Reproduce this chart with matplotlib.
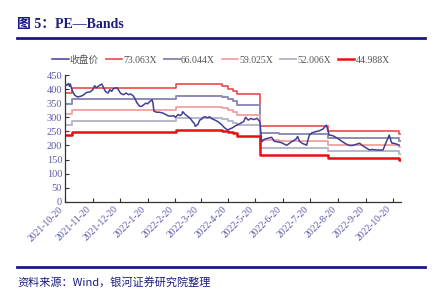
import matplotlib
matplotlib.use("Agg")
import matplotlib.pyplot as plt
import matplotlib.dates as mdates
import numpy as np
import pandas as pd
from matplotlib.lines import Line2D

# ---- data ----
price_dates = ["2021-10-20","2021-10-22","2021-10-24","2021-10-25","2021-10-26","2021-10-28","2021-10-31",
    "2021-11-03","2021-11-07","2021-11-10","2021-11-13","2021-11-17","2021-11-20","2021-11-22","2021-11-24",
    "2021-11-26","2021-11-30","2021-12-02","2021-12-04","2021-12-07","2021-12-09","2021-12-11","2021-12-13",
    "2021-12-17","2021-12-19","2021-12-21","2021-12-24","2021-12-27","2021-12-30","2022-01-01","2022-01-04",
    "2022-01-06","2022-01-08","2022-01-11","2022-01-13","2022-01-16","2022-01-18","2022-01-20","2022-01-22",
    "2022-01-25","2022-01-26","2022-01-27","2022-01-30","2022-02-02","2022-02-06","2022-02-09","2022-02-12",
    "2022-02-16","2022-02-18","2022-02-20","2022-02-23","2022-02-25","2022-02-27","2022-02-28","2022-03-03",
    "2022-03-05","2022-03-07","2022-03-09","2022-03-11","2022-03-13","2022-03-14","2022-03-17","2022-03-19",
    "2022-03-21","2022-03-23","2022-03-25","2022-03-28","2022-03-30","2022-04-01","2022-04-05","2022-04-08",
    "2022-04-12","2022-04-16","2022-04-19","2022-04-24","2022-04-28","2022-05-03","2022-05-07","2022-05-09",
    "2022-05-12","2022-05-15","2022-05-18","2022-05-22","2022-05-25","2022-05-27","2022-05-30","2022-06-02",
    "2022-06-07","2022-06-10","2022-06-14","2022-06-18","2022-06-21","2022-06-24","2022-06-27","2022-06-30",
    "2022-07-04","2022-07-06","2022-07-08","2022-07-11","2022-07-16","2022-07-19","2022-07-22","2022-07-27",
    "2022-07-30","2022-08-03","2022-08-07","2022-08-09","2022-08-10","2022-08-14","2022-08-18","2022-08-21",
    "2022-08-25","2022-08-29","2022-09-02","2022-09-05","2022-09-10","2022-09-13","2022-09-16","2022-09-21",
    "2022-09-24","2022-09-27","2022-10-02","2022-10-09","2022-10-13","2022-10-16","2022-10-18","2022-10-19",
    "2022-10-21","2022-10-24","2022-10-27"]
price_values = [418,414,420,410,418,395,378,
    372,375,380,388,390,398,412,405,
    410,418,405,392,386,398,392,402,
    405,395,385,380,386,380,383,376,
    366,352,340,338,345,350,348,355,
    362,350,322,318,318,315,310,305,
    304,306,300,310,306,310,320,310,
    305,300,294,285,278,268,275,290,
    293,300,302,298,302,296,290,285,
    275,262,255,262,270,278,285,300,
    290,296,292,296,284,213,222,225,
    229,215,213,210,205,201,208,215,
    222,232,215,208,201,237,245,250,
    252,258,272,250,237,235,228,222,
    213,205,200,200,205,208,200,190,
    184,186,184,184,215,237,215,208,
    208,205,201]

eps_dates = ["2021-10-20","2021-10-28","2022-02-21","2022-04-13","2022-04-19","2022-04-25","2022-04-29",
             "2022-05-25","2022-06-15","2022-08-09","2022-10-27","2022-10-28"]
eps_values = [5.27,5.54,5.70,5.62,5.50,5.40,5.22,3.69,3.66,3.44,3.28,3.28]

band_multiples = [73.063, 66.044, 59.025, 52.006, 44.988]
band_labels = ["73.063X", "66.044X", "59.025X", "52.006X", "44.988X"]
price_label = "收盘价"
tick_dates = ["2021-10-20","2021-11-20","2021-12-20","2022-01-20","2022-02-20","2022-03-20","2022-04-20",
              "2022-05-20","2022-06-20","2022-07-20","2022-08-20","2022-09-20","2022-10-20"]
tick_labels = ["2021-10-20","2021-11-20","2021-12-20","2022-1-20","2022-2-20","2022-3-20","2022-4-20",
               "2022-5-20","2022-6-20","2022-7-20","2022-8-20","2022-9-20","2022-10-20"]
yticks = [0,50,100,150,200,250,300,350,400,450]

# ---- style ----
band_colors = ["#E84B4B", "#8C8CB8", "#EE9A9A", "#B8B8CC", "#E81010"]
band_widths = [1.2, 1.4, 1.2, 1.4, 1.8]
price_color = "#3F3F95"
navy = "#1A1A80"
tick_color = "#5A5AA8"

fig = plt.figure(figsize=(4.33, 2.93), dpi=100)
ax = fig.add_axes([0.150, 0.311, 0.776, 0.433])

pd_dates = pd.to_datetime(price_dates)
ed = pd.to_datetime(eps_dates)
eps = np.array(eps_values)

handles = []
h, = ax.plot(pd_dates, price_values, color=price_color, lw=1.1, zorder=5)
handles.append(h)
for m, c, w in zip(band_multiples, band_colors, band_widths):
    h, = ax.plot(ed, eps * m, color=c, lw=w, drawstyle="steps-post")
    handles.append(h)

ax.set_ylim(0, 450)
ax.set_xlim(pd.Timestamp("2021-10-20"), pd.Timestamp("2022-10-29"))
ax.set_yticks(yticks)
ax.set_yticklabels([str(v) for v in yticks], family="Liberation Serif", fontsize=7.5, color=tick_color)
ax.set_xticks(pd.to_datetime(tick_dates))
ax.set_xticklabels(tick_labels, rotation=45, ha="right", va="top", family="Liberation Serif",
                   fontsize=7, color=tick_color)
ax.tick_params(direction="in", length=3, width=0.8, color="#333333", pad=2)
for s in ["top", "right"]:
    ax.spines[s].set_visible(False)
for s in ["left", "bottom"]:
    ax.spines[s].set_color("#333333")
    ax.spines[s].set_linewidth(0.9)

labels = [price_label] + band_labels
leg = fig.legend(handles, labels, loc="center", bbox_to_anchor=(0.51, 0.795), ncol=6, frameon=False,
                 handlelength=1.7, handletextpad=0.1, columnspacing=0.7,
                 prop={"family": ["Liberation Serif", "Noto Sans CJK SC"], "size": 7})
for t in leg.get_texts():
    t.set_color("#555555")

# title and rules
fig.text(0.040, 0.915, "图 5：PE—Bands", fontsize=10, fontweight="bold", color=navy,
         family=["Liberation Serif", "Noto Sans CJK SC"], va="center", ha="left")
fig.add_artist(Line2D([0.040, 0.982], [0.870, 0.870], color=navy, lw=2.0))
fig.add_artist(Line2D([0.040, 0.982], [0.090, 0.090], color=navy, lw=2.0))
fig.text(0.040, 0.038, "资料来源：Wind，银河证券研究院整理", fontsize=8, color=navy, style="italic",
         family=["Noto Sans CJK SC"], va="center", ha="left")

fig.savefig("out.png", dpi=100)
